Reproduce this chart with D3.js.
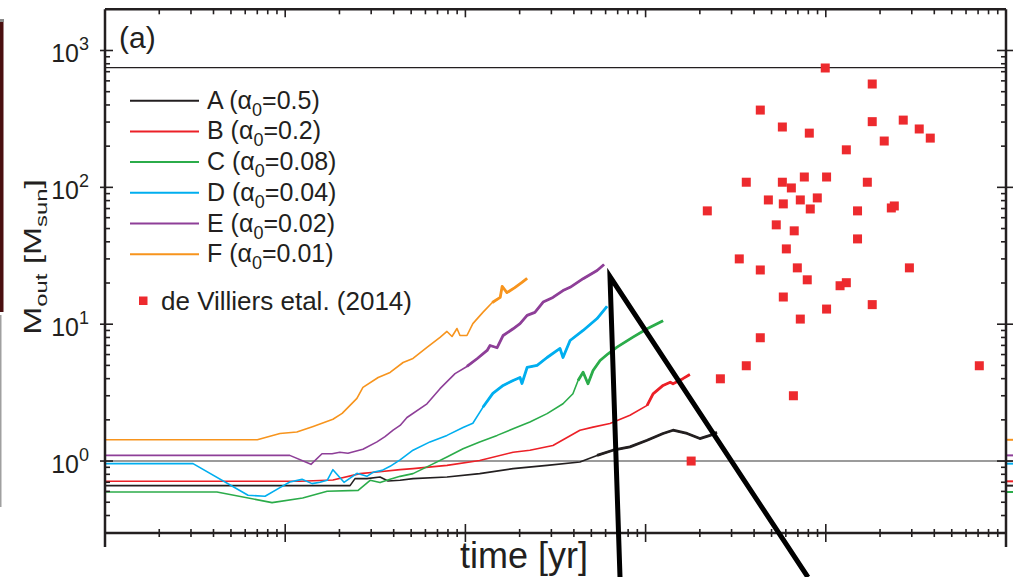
<!DOCTYPE html>
<html><head><meta charset="utf-8">
<script src="https://cdn.jsdelivr.net/npm/d3@7"></script>
<style>
body{margin:0;background:#fff}
svg{display:block}
text{font-family:'Liberation Sans',Arial,Helvetica,sans-serif;fill:#231f20}
</style>
</head><body>
<svg id="c" width="1013" height="577"></svg>
<script>
// ---------- data ----------
const seriesNames = ["A","B","C","D","E","F"];
const alphaLabels = ["0.5","0.2","0.08","0.04","0.02","0.01"];
const seriesColors = ["#231f20","#ec2027","#2bac4a","#00aeef","#8e3f98","#f7941d"];
// time [yr], M_out [M_sun]
const seriesA = [[100,0.661],[2290,0.661],[2440,0.744],[2840,0.744],[3360,0.764],[3720,0.715],[4340,0.723],[5120,0.744],[7900,0.764],[12000,0.809],[18400,0.88],[28400,0.93],[43200,0.983],[53800,1.1],[65900,1.2],[81900,1.27],[102000,1.42],[125000,1.59],[142000,1.68],[170000,1.59],[200000,1.46],[228000,1.54],[249000,1.62]];
const seriesB = [[100,0.711],[1210,0.711],[1840,0.727],[2600,0.809],[3230,0.831],[4340,0.865],[5120,0.88],[7900,0.93],[12000,1.01],[18400,1.16],[22800,1.2],[30600,1.3],[43200,1.68],[51100,1.77],[63400,1.88],[81900,2.16],[102000,2.55],[110000,3.1],[125000,3.57],[137000,3.77],[142000,3.67],[161000,4.0],[176000,4.29]];
const seriesC = [[100,0.594],[418,0.594],[845,0.497],[1250,0.537],[1710,0.601],[2540,0.611],[2960,0.723],[3360,0.696],[3820,0.735],[4340,0.773],[5120,0.809],[6360,0.93],[7900,1.07],[9700,1.23],[12000,1.38],[15000,1.54],[18400,1.72],[22800,1.93],[28400,2.22],[34800,2.62],[39500,3.1],[42200,3.88],[45000,4.46],[47900,3.67],[51100,4.59],[55900,5.43],[61900,6.08],[69400,6.8],[85100,8.04],[102000,9.26],[125000,10.6]];
const seriesD = [[100,0.957],[308,0.957],[622,0.562],[773,0.553],[935,0.639],[1060,0.703],[1240,0.735],[1410,0.684],[1560,0.699],[1710,0.723],[1840,0.865],[2120,0.699],[2500,0.813],[2840,0.773],[3070,0.827],[3450,0.855],[3820,0.915],[4340,1.02],[5120,1.2],[6360,1.38],[7900,1.54],[9700,1.76],[11000,1.89],[12500,2.47],[14200,3.12],[16200,3.57],[18400,3.88],[20100,4.08],[20600,3.69],[22000,4.83],[25000,5.0],[28400,5.71],[33500,6.65],[34800,5.71],[38100,7.6],[45000,9.0],[53800,11.0],[61100,13.5]];
const seriesE = [[100,1.1],[1060,1.1],[1390,0.946],[1600,1.13],[1820,1.13],[2010,1.16],[2230,1.14],[2700,1.22],[3230,1.38],[3580,1.51],[3970,1.68],[4340,1.82],[4740,2.08],[6120,2.62],[7230,3.38],[8760,4.35],[10200,4.91],[11600,5.59],[13200,6.43],[13700,6.99],[15000,6.73],[16200,8.27],[18400,9.26],[20100,10.1],[22000,11.6],[24300,12.2],[27000,14.5],[30600,15.7],[34800,17.6],[38100,18.6],[45000,21.5],[53800,24.7],[58800,27.3]];
const seriesF = [[100,1.43],[700,1.43],[935,1.59],[1160,1.63],[1430,1.79],[1840,2.02],[2070,2.23],[2290,2.55],[2500,2.87],[2700,3.45],[3280,4.08],[3820,4.44],[4510,5.25],[5120,5.62],[6120,6.76],[7230,8.0],[7900,8.85],[8430,8.13],[8980,9.3],[9330,8.27],[10200,8.27],[11000,10.1],[12500,12.2],[14100,14.4],[15600,15.7],[16000,18.9],[17000,17.0],[18800,18.5],[20600,20.2],[22000,21.6]];
// de Villiers et al. (2014): time [yr], M_out [M_sun]
const villiersT = [9.93e5,1.81e6,4.33e5,5.74e5,8.1e5,1.81e6,2.69e6,3.3e6,3.8e6,2.11e6,1.3e6,3.62e5,5.74e5,7.6e5,1.01e6,1.7e6,6.44e5,4.8e5,7.22e5,8.97e5,5.81e5,8.2e5,2.2e5,1.5e6,2.4e6,2.31e6,5.31e5,6.68e5,1.5e6,6.04e5,3.31e5,4.33e5,6.95e5,2.91e6,7.89e5,1.2e6,1.3e6,5.81e5,1.01e6,1.81e6,7.22e5,4.33e5,3.62e5,7.11e6,2.6e5,6.61e5,1.79e5];
const villiersM = [745,569,367,276,249,302,310,267,229,218,188,109,109,119,119,109,99,80.9,80.9,83.7,75.7,69.5,67.3,67.3,73.1,70.7,53.2,48.1,42.0,35.5,30.0,24.9,25.8,25.8,21.1,19.1,20.1,15.8,12.9,13.9,10.9,7.96,4.97,4.97,3.99,3.0,1.0];
// reference levels
const refLevels = [750, 1];
// annotation wedge (time, mass)
const wedgeT = [72100, 63440, 796000];
const wedgeM = [0.1416, 22.3, 0.1416];
const xDomain = [1e2, 1e7];
const yDomain = [0.298, 2000];
const yTickLabels = [{v:1,e:"0"},{v:10,e:"1"},{v:100,e:"2"},{v:1000,e:"3"}];

// ---------- drawing ----------
const svg = d3.select("#c");
const L=105, R=1006, T=9.3, B=533;
const x = d3.scaleLog().domain(xDomain).range([L,R]);
const y = d3.scaleLog().domain(yDomain).range([B,T]);
const ink = "#231f20";

// side artefacts from neighbouring panels
svg.append("rect").attr("x",0).attr("y",19).attr("width",4).attr("height",3).attr("fill","#8a8a8a");
svg.append("rect").attr("x",0).attr("y",22).attr("width",3.5).attr("height",290).attr("fill","#4a0f10");
svg.append("rect").attr("x",0).attr("y",315).attr("width",1.5).attr("height",192).attr("fill","#a0a0a0");

// reference lines
svg.append("line").attr("x1",L).attr("x2",R).attr("y1",y(refLevels[0])).attr("y2",y(refLevels[0]))
  .attr("stroke","#231f20").attr("stroke-width",1.2);
svg.append("line").attr("x1",L).attr("x2",1013).attr("y1",y(refLevels[1])).attr("y2",y(refLevels[1]))
  .attr("stroke","#7a7a7a").attr("stroke-width",1.6);

// stubs at right edge (neighbouring panel curves)
const stubLevels = [1.1,1.43,0.711,0.661,0.957,0.594];
const stubColors = ["#8e3f98","#f7941d","#ec2027","#231f20","#00aeef","#2bac4a"];
stubLevels.forEach((v,i)=>{
  svg.append("line").attr("x1",1007).attr("x2",1013).attr("y1",y(v)).attr("y2",y(v))
    .attr("stroke",stubColors[i]).attr("stroke-width",2);
});

// curves
const allSeries = [seriesA,seriesB,seriesC,seriesD,seriesE,seriesF];
const line = d3.line().x(d=>x(d[0])).y(d=>y(d[1]));
const noisyFrom = [50000, 100000, 40000, 12000, 10000, 14000];
allSeries.forEach((s,i)=>{
  svg.append("path").attr("d",line(s)).attr("fill","none")
    .attr("stroke",seriesColors[i]).attr("stroke-width",1.6).attr("stroke-linejoin","round");
  const noisy = s.filter(d=>d[0]>=noisyFrom[i]);
  if(noisy.length>1){
    svg.append("path").attr("d",line(noisy)).attr("fill","none")
      .attr("stroke",seriesColors[i]).attr("stroke-width",2.8).attr("stroke-linejoin","round");
  }
});

// scatter
const sq = 9;
villiersT.forEach((t,i)=>{
  svg.append("rect").attr("x",x(t)-sq/2).attr("y",y(villiersM[i])-sq/2)
    .attr("width",sq).attr("height",sq).attr("fill","#ed2a2e");
});

// frame
const frame = svg.append("g").attr("stroke",ink).attr("fill","none");
frame.append("line").attr("x1",L).attr("x2",L).attr("y1",T).attr("y2",547).attr("stroke-width",2.5);
frame.append("line").attr("x1",R).attr("x2",R).attr("y1",T).attr("y2",547).attr("stroke-width",2.5);
frame.append("line").attr("x1",L).attr("x2",R).attr("y1",T).attr("y2",T).attr("stroke-width",2.5);
frame.append("line").attr("x1",L).attr("x2",R).attr("y1",B).attr("y2",B).attr("stroke-width",2.5);

const isMajor = v => Math.abs(Math.log10(v)-Math.round(Math.log10(v)))<1e-6;
x.ticks().forEach(v=>{
  const px=x(v); const M=isMajor(v);
  if(px<=L+1||px>=R-1) return;
  frame.append("line").attr("x1",px).attr("x2",px).attr("y1",M?B-9:B-4).attr("y2",M?B+9:B+4).attr("stroke-width",1.6);
  frame.append("line").attr("x1",px).attr("x2",px).attr("y1",T).attr("y2",M?T+8:T+5).attr("stroke-width",1.6);
});
y.ticks().forEach(v=>{
  const py=y(v); const M=isMajor(v);
  if(py>=B-1||py<=T+1) return;
  frame.append("line").attr("x1",M?L-5:L).attr("x2",M?L+8:L+5).attr("y1",py).attr("y2",py).attr("stroke-width",1.6);
  frame.append("line").attr("x1",M?R-9:R-5).attr("x2",M?R+7:R).attr("y1",py).attr("y2",py).attr("stroke-width",1.6);
});

// y tick labels
yTickLabels.forEach(d=>{
  const t = svg.append("text").attr("x",89).attr("y",y(d.v)+12).attr("text-anchor","end").attr("font-size",25);
  t.append("tspan").text("10");
  t.append("tspan").attr("dy",-12).attr("font-size",18).text(d.e);
});

// axis titles
svg.append("text").attr("x",524).attr("y",568).attr("text-anchor","middle").attr("font-size",36).text("time [yr]");
const yt = svg.append("text").attr("transform","translate(41,257) rotate(-90) scale(1.4,1)").attr("text-anchor","middle").attr("font-size",24);
yt.append("tspan").text("M");
yt.append("tspan").attr("dy",6).attr("font-size",17).text("out");
yt.append("tspan").attr("dy",-6).text(" [M");
yt.append("tspan").attr("dy",6).attr("font-size",17).text("sun");
yt.append("tspan").attr("dy",-6).text("]");

// panel label
svg.append("text").attr("x",119).attr("y",48).attr("font-size",30).text("(a)");

// legend
seriesNames.forEach((n,i)=>{
  const ly = 100.7 + i*30.7;
  svg.append("line").attr("x1",130).attr("x2",199).attr("y1",ly).attr("y2",ly)
    .attr("stroke",seriesColors[i]).attr("stroke-width",2);
  const t = svg.append("text").attr("x",207).attr("y",ly+8).attr("font-size",25);
  t.append("tspan").text(n+" (\u03b1");
  t.append("tspan").attr("dy",7).attr("font-size",18).text("0");
  t.append("tspan").attr("dy",-7).text("="+alphaLabels[i]+")");
});
svg.append("rect").attr("x",139).attr("y",296.5).attr("width",8.5).attr("height",8.5).attr("fill","#ed2a2e");
svg.append("text").attr("x",161).attr("y",310).attr("font-size",26).text("de Villiers etal. (2014)");

// annotation wedge
const wedge = wedgeT.map((t,i)=>[t,wedgeM[i]]);
svg.append("path").attr("d",line(wedge)).attr("fill","none").attr("stroke","#000")
  .attr("stroke-width",5).attr("stroke-linejoin","miter");
</script>
</body></html>
